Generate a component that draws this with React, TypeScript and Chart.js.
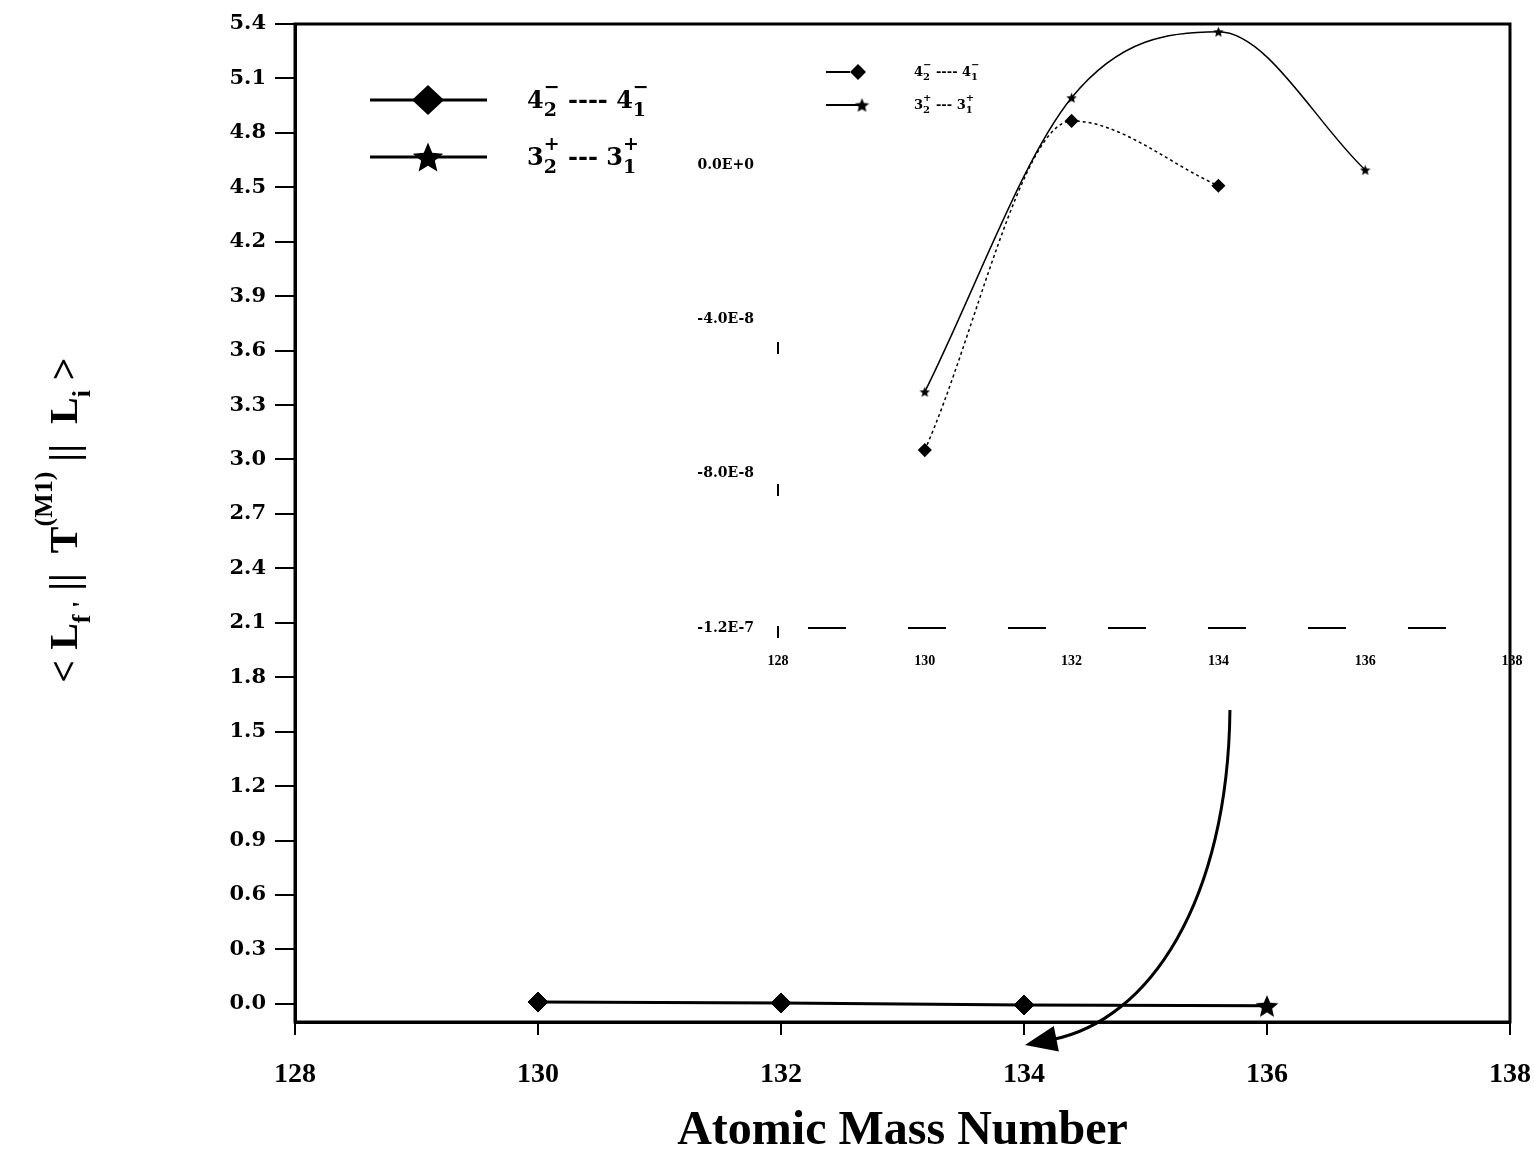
import React, { useEffect, useRef } from 'react';
import { Chart, registerables } from 'chart.js';

Chart.register(...registerables);

// ---------- main chart data ----------
const mainMass4 = [130, 132, 134];
const mainValues4 = [0.01, 0.005, -0.006];
const mainMass3 = [136];
const mainValues3 = [-0.011];
const mainXTicks = [128, 130, 132, 134, 136, 138];
const mainYTicks = [0, 0.3, 0.6, 0.9, 1.2, 1.5, 1.8, 2.1, 2.4, 2.7, 3.0, 3.3, 3.6, 3.9, 4.2, 4.5, 4.8, 5.1, 5.4];

// ---------- inset chart data ----------
const insetMass4 = [130, 132, 134];
const insetValues4 = [-7.39e-8, 1.14e-8, -0.54e-8];
const insetMass3 = [130, 132, 134, 136];
const insetValues3 = [-5.88e-8, 1.74e-8, 3.45e-8, -0.13e-8];
const insetXTicks = [128, 130, 132, 134, 136, 138];
const insetYTicks = [0, -4e-8, -8e-8, -1.2e-7];
const insetYTickLabels = ['0.0E+0', '-4.0E-8', '-8.0E-8', '-1.2E-7'];

// ---------- arrow annotation (data units of the main chart) ----------
const arrowMass = [135.695, 135.679, 135.037, 134.008];
const arrowValue = [1.62, 0.573, -0.089, -0.227];

// ---------- text ----------
type Seg = { t?: string; sub?: string; sup?: string };
const label4: Seg[] = [{ t: '4' }, { sub: '2', sup: '\u2212' }, { t: ' ---- 4' }, { sub: '1', sup: '\u2212' }];
const label3: Seg[] = [{ t: '3' }, { sub: '2', sup: '+' }, { t: ' --- 3' }, { sub: '1', sup: '+' }];
const yTitle: Seg[] = [
  { t: '< L' }, { sub: "f '" }, { t: ' ||  T' }, { sup: '(M1)' }, { t: ' ||  L' }, { sub: 'i' }, { t: ' >' },
];
const xTitle = 'Atomic Mass Number';

const SERIF = '"Liberation Serif", "Times New Roman", serif';
const WIDE = '"DejaVu Serif", serif';

function segWidth(ctx: CanvasRenderingContext2D, s: Seg, size: number, family: string, small: number) {
  if (s.t) {
    ctx.font = `bold ${size}px ${family}`;
    return ctx.measureText(s.t).width;
  }
  ctx.font = `bold ${small}px ${family}`;
  return Math.max(s.sub ? ctx.measureText(s.sub).width : 0, s.sup ? ctx.measureText(s.sup).width : 0);
}

function richWidth(ctx: CanvasRenderingContext2D, segs: Seg[], size: number, family: string, small: number) {
  return segs.reduce((a, s) => a + segWidth(ctx, s, size, family, small), 0);
}

function drawRich(ctx: CanvasRenderingContext2D, segs: Seg[], x: number, baseline: number, size: number, family: string, small: number) {
  ctx.textAlign = 'left';
  ctx.textBaseline = 'alphabetic';
  ctx.fillStyle = '#000';
  let cx = x;
  for (const s of segs) {
    const w = segWidth(ctx, s, size, family, small);
    if (s.t) {
      ctx.font = `bold ${size}px ${family}`;
      ctx.fillText(s.t, cx, baseline);
    } else {
      ctx.font = `bold ${small}px ${family}`;
      if (s.sub) ctx.fillText(s.sub, cx, baseline + size * 0.32);
      if (s.sup) ctx.fillText(s.sup, cx, baseline - size * 0.62);
    }
    cx += w;
  }
}

function makeStar(d: number): HTMLCanvasElement {
  const c = document.createElement('canvas');
  c.width = d;
  c.height = d;
  const g = c.getContext('2d')!;
  const R = d / 2;
  const r = R * 0.45;
  const cx = d / 2;
  const cy = d / 2 + R * 0.1;
  g.beginPath();
  for (let i = 0; i < 10; i++) {
    const a = -Math.PI / 2 + (i * Math.PI) / 5;
    const rr = i % 2 === 0 ? R : r;
    g.lineTo(cx + rr * Math.cos(a), cy + rr * Math.sin(a));
  }
  g.closePath();
  g.fillStyle = '#000';
  g.fill();
  return c;
}

function drawDiamond(ctx: CanvasRenderingContext2D, x: number, y: number, rw: number, rh: number) {
  ctx.beginPath();
  ctx.moveTo(x - rw, y);
  ctx.lineTo(x, y - rh);
  ctx.lineTo(x + rw, y);
  ctx.lineTo(x, y + rh);
  ctx.closePath();
  ctx.fillStyle = '#000';
  ctx.fill();
}

const noPad = (s: any) => {
  s.paddingLeft = 0;
  s.paddingRight = 0;
  s.paddingTop = 0;
  s.paddingBottom = 0;
};

export default function App() {
  const mainRef = useRef<HTMLCanvasElement>(null);
  const insetRef = useRef<HTMLCanvasElement>(null);

  useEffect(() => {
    const bigStar = makeStar(24);
    const legendStar = makeStar(32);
    const smallStar = makeStar(11);
    const insetLegendStar = makeStar(15);

    const mainPlugin = {
      id: 'mainDecor',
      afterDraw(chart: any) {
        const { ctx, chartArea: a, scales } = chart;
        ctx.save();
        // box frame
        ctx.strokeStyle = '#000';
        ctx.lineWidth = 3;
        ctx.strokeRect(a.left, a.top, a.right - a.left, a.bottom - a.top);

        // legend
        const rows: { y: number; segs: Seg[]; star: boolean }[] = [
          { y: a.top + 76, segs: label4, star: false },
          { y: a.top + 133, segs: label3, star: true },
        ];
        for (const r of rows) {
          ctx.strokeStyle = '#000';
          ctx.lineWidth = 3;
          ctx.beginPath();
          ctx.moveTo(a.left + 75, r.y);
          ctx.lineTo(a.left + 192, r.y);
          ctx.stroke();
          if (r.star) ctx.drawImage(legendStar, a.left + 133 - 16, r.y - 16);
          else drawDiamond(ctx, a.left + 133, r.y, 16, 15);
          drawRich(ctx, r.segs, a.left + 232, r.y + 8, 24, WIDE, 19);
        }

        // y title (rotated rich text)
        const size = 40;
        const small = 26;
        const w = richWidth(ctx, yTitle, size, SERIF, small);
        ctx.save();
        ctx.translate(64, 520);
        ctx.rotate(-Math.PI / 2);
        drawRich(ctx, yTitle, -w / 2, size * 0.33, size, SERIF, small);
        ctx.restore();

        // curved arrow from the inset down to the main data
        const xs = scales.x;
        const ys = scales.y;
        const P = arrowMass.map((m, i) => [xs.getPixelForValue(m), ys.getPixelForValue(arrowValue[i])]);
        const dx = P[3][0] - P[2][0];
        const dy = P[3][1] - P[2][1];
        const len = Math.hypot(dx, dy);
        const ux = dx / len;
        const uy = dy / len;
        const headL = 32;
        const headW = 13;
        const bx = P[3][0] - ux * headL;
        const by = P[3][1] - uy * headL;
        ctx.strokeStyle = '#000';
        ctx.lineWidth = 3;
        ctx.beginPath();
        ctx.moveTo(P[0][0], P[0][1]);
        ctx.bezierCurveTo(P[1][0], P[1][1], P[2][0], P[2][1], bx + ux * 4, by + uy * 4);
        ctx.stroke();
        ctx.beginPath();
        ctx.moveTo(P[3][0], P[3][1]);
        ctx.lineTo(bx - uy * headW, by + ux * headW);
        ctx.lineTo(bx + uy * headW, by - ux * headW);
        ctx.closePath();
        ctx.fillStyle = '#000';
        ctx.fill();
        ctx.restore();
      },
    };

    const connector = [
      ...mainMass4.map((x, i) => ({ x, y: mainValues4[i] })),
      ...mainMass3.map((x, i) => ({ x, y: mainValues3[i] })),
    ];

    const main = new Chart(mainRef.current!, {
      type: 'scatter',
      data: {
        datasets: [
          {
            label: 'line',
            data: connector,
            showLine: true,
            borderColor: '#000',
            borderWidth: 3,
            pointRadius: 0,
          },
          {
            label: '4- transition',
            data: mainMass4.map((x, i) => ({ x, y: mainValues4[i] })),
            pointStyle: 'rectRot',
            pointRadius: 10,
            backgroundColor: '#000',
            borderColor: '#000',
            showLine: false,
          },
          {
            label: '3+ transition',
            data: mainMass3.map((x, i) => ({ x, y: mainValues3[i] })),
            pointStyle: bigStar as any,
            backgroundColor: '#000',
            borderColor: '#000',
            showLine: false,
          },
        ],
      },
      options: {
        animation: false,
        responsive: false,
        layout: { padding: { top: 24, right: 24, left: 0, bottom: 0 } },
        plugins: { legend: { display: false }, tooltip: { enabled: false } },
        scales: {
          x: {
            type: 'linear',
            min: 128,
            max: 138,
            afterBuildTicks: (s: any) => {
              s.ticks = mainXTicks.map((v) => ({ value: v }));
            },
            afterFit: (s: any) => {
              s.height = 138;
              noPad(s);
            },
            grid: { drawOnChartArea: false, drawTicks: true, tickLength: 13, color: '#000', lineWidth: 2 },
            border: { display: true, color: '#000', width: 3 },
            ticks: {
              color: '#000',
              padding: 23,
              maxRotation: 0,
              font: { family: SERIF, size: 28, weight: 'bold' },
              callback: (v: any) => String(v),
            },
            title: {
              display: true,
              text: xTitle,
              color: '#000',
              font: { family: SERIF, size: 48, weight: 'bold' },
              padding: { top: 0, bottom: 0 },
            },
          },
          y: {
            type: 'linear',
            min: -0.1,
            max: 5.4,
            afterBuildTicks: (s: any) => {
              s.ticks = mainYTicks.map((v) => ({ value: v }));
            },
            afterFit: (s: any) => {
              s.width = 295;
              noPad(s);
            },
            grid: { drawOnChartArea: false, drawTicks: true, tickLength: 20, color: '#000', lineWidth: 2 },
            border: { display: true, color: '#000', width: 3 },
            ticks: {
              color: '#000',
              padding: 9,
              font: { family: WIDE, size: 21, weight: 'bold' },
              callback: (v: any) => Number(v).toFixed(1),
            },
          },
        },
      },
      plugins: [mainPlugin],
    });

    const insetPlugin = {
      id: 'insetDecor',
      beforeDatasetsDraw(chart: any) {
        const { ctx, chartArea: a } = chart;
        ctx.save();
        ctx.strokeStyle = '#000';
        ctx.lineWidth = 2;
        // broken (dashed) bottom axis
        ctx.setLineDash([38, 62]);
        ctx.lineDashOffset = -30;
        ctx.beginPath();
        ctx.moveTo(a.left, a.bottom);
        ctx.lineTo(a.right - 40, a.bottom);
        ctx.stroke();
        // faint broken left axis
        ctx.setLineDash([12, 130]);
        ctx.lineDashOffset = 0;
        ctx.beginPath();
        ctx.moveTo(a.left, a.bottom + 10);
        ctx.lineTo(a.left, a.top + 190);
        ctx.stroke();
        ctx.restore();
      },
      afterDraw(chart: any) {
        const { ctx, chartArea: a } = chart;
        ctx.save();
        const rows: { y: number; segs: Seg[]; star: boolean }[] = [
          { y: 72, segs: label4, star: false },
          { y: 105, segs: label3, star: true },
        ];
        for (const r of rows) {
          ctx.strokeStyle = '#000';
          ctx.lineWidth = 2;
          ctx.beginPath();
          ctx.moveTo(a.left + 48, r.y);
          ctx.lineTo(a.left + (r.star ? 84 : 72), r.y);
          ctx.stroke();
          if (r.star) ctx.drawImage(insetLegendStar, a.left + 84 - 7.5, r.y - 7.5);
          else drawDiamond(ctx, a.left + 80, r.y, 8, 8);
          drawRich(ctx, r.segs, a.left + 136, r.y + 4, 13, WIDE, 10);
        }
        ctx.restore();
      },
    };

    const inset = new Chart(insetRef.current!, {
      type: 'scatter',
      data: {
        datasets: [
          {
            label: '4- inset',
            data: insetMass4.map((x, i) => ({ x, y: insetValues4[i] })),
            showLine: true,
            cubicInterpolationMode: 'monotone',
            borderColor: '#000',
            borderWidth: 1.5,
            borderDash: [3, 3],
            pointStyle: 'rectRot',
            pointRadius: 6,
            backgroundColor: '#000',
            clip: false as any,
          },
          {
            label: '3+ inset',
            data: insetMass3.map((x, i) => ({ x, y: insetValues3[i] })),
            showLine: true,
            cubicInterpolationMode: 'monotone',
            borderColor: '#000',
            borderWidth: 1.5,
            pointStyle: smallStar as any,
            backgroundColor: '#000',
            clip: false as any,
          },
        ],
      },
      options: {
        animation: false,
        responsive: false,
        layout: { padding: { top: 26, right: 22, left: 0, bottom: 0 } },
        plugins: { legend: { display: false }, tooltip: { enabled: false } },
        scales: {
          x: {
            type: 'linear',
            min: 128,
            max: 138,
            afterBuildTicks: (s: any) => {
              s.ticks = insetXTicks.map((v) => ({ value: v }));
            },
            afterFit: (s: any) => {
              s.height = 72;
              noPad(s);
            },
            grid: { drawOnChartArea: false, drawTicks: false },
            border: { display: false },
            ticks: {
              color: '#000',
              padding: 25,
              maxRotation: 0,
              font: { family: SERIF, size: 14, weight: 'bold' },
              callback: (v: any) => String(v),
            },
          },
          y: {
            type: 'linear',
            min: -1.2e-7,
            max: 3.6e-8,
            afterBuildTicks: (s: any) => {
              s.ticks = insetYTicks.map((v) => ({ value: v }));
            },
            afterFit: (s: any) => {
              s.width = 118;
              noPad(s);
            },
            grid: { drawOnChartArea: false, drawTicks: false },
            border: { display: false },
            ticks: {
              color: '#000',
              padding: 24,
              font: { family: WIDE, size: 14, weight: 'bold' },
              callback: (v: any, i: number) => insetYTickLabels[i] ?? '',
            },
          },
        },
      },
      plugins: [insetPlugin],
    });

    return () => {
      main.destroy();
      inset.destroy();
    };
  }, []);

  return (
    <div style={{ position: 'fixed', left: 0, top: 0, width: 1534, height: 1160, background: '#fff' }}>
      <canvas ref={mainRef} width={1534} height={1160} style={{ position: 'absolute', left: 0, top: 0, width: 1534, height: 1160 }} />
      <canvas ref={insetRef} width={874} height={700} style={{ position: 'absolute', left: 660, top: 0, width: 874, height: 700 }} />
    </div>
  );
}
